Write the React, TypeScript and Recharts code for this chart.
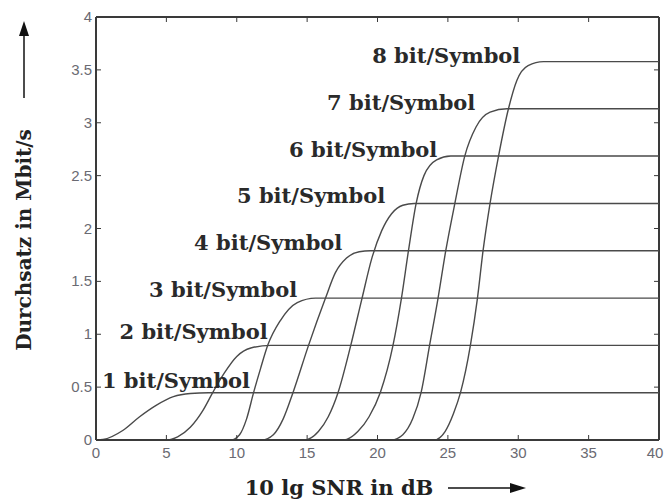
import React from 'react';
import { LineChart, Line, XAxis, YAxis, ReferenceDot, ReferenceLine } from 'recharts';

type P = { x: number; y: number };

const curve1: P[] = [
  { x: 0, y: 0 }, { x: 0.5, y: 0.005 }, { x: 1.9, y: 0.09 }, { x: 3.1, y: 0.22 },
  { x: 4.3, y: 0.33 }, { x: 5.5, y: 0.41 }, { x: 6.7, y: 0.44 }, { x: 8, y: 0.447 }, { x: 40, y: 0.447 },
];
const curve2: P[] = [
  { x: 0, y: 0 }, { x: 5, y: 0 }, { x: 5.8, y: 0.03 }, { x: 6.7, y: 0.12 }, { x: 7.6, y: 0.28 },
  { x: 8.3, y: 0.45 }, { x: 9.1, y: 0.63 }, { x: 10, y: 0.79 }, { x: 11, y: 0.87 }, { x: 12.4, y: 0.895 }, { x: 40, y: 0.895 },
];
const curve3: P[] = [
  { x: 0, y: 0 }, { x: 9.6, y: 0 }, { x: 10.2, y: 0.05 }, { x: 10.7, y: 0.2 }, { x: 11.2, y: 0.45 },
  { x: 11.7, y: 0.68 }, { x: 12.2, y: 0.895 }, { x: 13.1, y: 1.13 }, { x: 14.3, y: 1.3 }, { x: 15.6, y: 1.342 }, { x: 40, y: 1.342 },
];
const curve4: P[] = [
  { x: 0, y: 0 }, { x: 11.8, y: 0 }, { x: 12.6, y: 0.05 }, { x: 13.3, y: 0.2 }, { x: 14.0, y: 0.45 },
  { x: 15.1, y: 0.895 }, { x: 16.3, y: 1.34 }, { x: 17.0, y: 1.58 }, { x: 17.8, y: 1.72 }, { x: 18.7, y: 1.78 }, { x: 19.5, y: 1.79 }, { x: 40, y: 1.79 },
];
const curve5: P[] = [
  { x: 0, y: 0 }, { x: 14.8, y: 0 }, { x: 15.8, y: 0.08 }, { x: 16.5, y: 0.22 }, { x: 17.2, y: 0.45 },
  { x: 18.1, y: 0.895 }, { x: 18.9, y: 1.34 }, { x: 19.6, y: 1.72 }, { x: 20.3, y: 1.98 }, { x: 21.0, y: 2.14 },
  { x: 21.8, y: 2.22 }, { x: 22.6, y: 2.237 }, { x: 40, y: 2.237 },
];
const curve6: P[] = [
  { x: 0, y: 0 }, { x: 17.6, y: 0 }, { x: 18.6, y: 0.08 }, { x: 19.4, y: 0.22 }, { x: 20.2, y: 0.45 },
  { x: 21.1, y: 0.895 }, { x: 21.7, y: 1.34 }, { x: 22.2, y: 1.79 }, { x: 22.75, y: 2.24 }, { x: 23.3, y: 2.5 },
  { x: 24.2, y: 2.65 }, { x: 25.2, y: 2.685 }, { x: 40, y: 2.685 },
];
const curve7: P[] = [
  { x: 0, y: 0 }, { x: 21.0, y: 0 }, { x: 21.8, y: 0.05 }, { x: 22.5, y: 0.2 }, { x: 23.1, y: 0.45 },
  { x: 23.7, y: 0.895 }, { x: 24.3, y: 1.34 }, { x: 24.85, y: 1.79 }, { x: 25.5, y: 2.24 }, { x: 26.2, y: 2.685 },
  { x: 27.0, y: 2.96 }, { x: 28.0, y: 3.1 }, { x: 29.2, y: 3.132 }, { x: 40, y: 3.132 },
];
const curve8: P[] = [
  { x: 0, y: 0 }, { x: 24.0, y: 0 }, { x: 24.8, y: 0.08 }, { x: 25.4, y: 0.25 }, { x: 25.9, y: 0.45 },
  { x: 26.6, y: 0.895 }, { x: 27.1, y: 1.34 }, { x: 27.5, y: 1.79 }, { x: 28.0, y: 2.24 }, { x: 28.6, y: 2.685 },
  { x: 29.3, y: 3.13 }, { x: 29.9, y: 3.4 }, { x: 30.7, y: 3.54 }, { x: 31.8, y: 3.578 }, { x: 40, y: 3.578 },
];

const curves = [curve1, curve2, curve3, curve4, curve5, curve6, curve7, curve8];

const labelTexts = [
  '1 bit/Symbol', '2 bit/Symbol', '3 bit/Symbol', '4 bit/Symbol',
  '5 bit/Symbol', '6 bit/Symbol', '7 bit/Symbol', '8 bit/Symbol',
];
const labelX = [10.95, 12.2, 14.3, 17.5, 20.55, 24.25, 26.95, 30.15];
const labelY = [0.567, 1.03, 1.42, 1.87, 2.31, 2.75, 3.19, 3.64];

const xTicks = [0, 5, 10, 15, 20, 25, 30, 35, 40];
const yTicks = [0, 0.5, 1, 1.5, 2, 2.5, 3, 3.5, 4];

const xTitle = '10 lg SNR in dB';
const yTitle = 'Durchsatz in Mbit/s';

const BOX = '#3a3a3a';
const TICKTXT = '#6a6a72';
const LABEL_FONT = "'DejaVu Serif', 'Liberation Serif', serif";
const TICK_FONT = "'Liberation Sans', Arial, sans-serif";

const BottomTick = (props: any) => {
  const { x, y, payload } = props;
  const tx = Math.min(x, 655);
  return (
    <g>
      <line x1={x} y1={y} x2={x} y2={y - 5} stroke={BOX} strokeWidth={1} />
      <text x={tx} y={y + 18} textAnchor="middle" fontSize={15} fill={TICKTXT} fontFamily={TICK_FONT}>
        {payload.value}
      </text>
    </g>
  );
};

const TopTick = (props: any) => {
  const { x } = props;
  return <line x1={x} y1={17} x2={x} y2={22} stroke={BOX} strokeWidth={1} />;
};

const LeftTick = (props: any) => {
  const { x, y, payload } = props;
  return (
    <g>
      <line x1={x} y1={y} x2={x + 5} y2={y} stroke={BOX} strokeWidth={1} />
      <text x={x - 4} y={y + 5} textAnchor="end" fontSize={15} fill={TICKTXT} fontFamily={TICK_FONT}>
        {payload.value}
      </text>
    </g>
  );
};

const RightTick = (props: any) => {
  const { y } = props;
  return <line x1={659} y1={y} x2={654} y2={y} stroke={BOX} strokeWidth={1} />;
};

const XTitle = (props: any) => {
  const vb = props.viewBox || { x: 96, y: 440, width: 563, height: 60 };
  const ty = vb.y + 55;
  return (
    <g>
      <text x={339} y={ty} textAnchor="middle" fontSize={21} fontWeight="bold" fill="#222" fontFamily={LABEL_FONT}>
        {xTitle}
      </text>
      <line x1={448} y1={ty - 7} x2={512} y2={ty - 7} stroke="#111" strokeWidth={1.5} />
      <polygon points={`${526},${ty - 7} ${510},${ty - 12} ${510},${ty - 2}`} fill="#111" />
    </g>
  );
};

const YTitle = () => {
  return (
    <g>
      <text
        x={0}
        y={0}
        transform="translate(31,240) rotate(-90)"
        textAnchor="middle"
        fontSize={20}
        fontWeight="bold"
        fill="#222"
        fontFamily={LABEL_FONT}
      >
        {yTitle}
      </text>
      <line x1={24} y1={98} x2={24} y2={34} stroke="#111" strokeWidth={1.5} />
      <polygon points={`24,21 19,36 29,36`} fill="#111" />
    </g>
  );
};

const makeLabel = (text: string) => (props: any) => {
  const vb = props.viewBox || {};
  const x = vb.x ?? props.x;
  const y = vb.y ?? props.y;
  return (
    <text
      x={x}
      y={y}
      textAnchor="end"
      dominantBaseline="central"
      fontSize={21}
      fontWeight="bold"
      fill="#2a2a2a"
      fontFamily={LABEL_FONT}
    >
      {text}
    </text>
  );
};

export default function App() {
  return (
    <div style={{ position: 'absolute', left: 0, top: 0, width: 665, height: 500, background: '#fff' }}>
      <LineChart width={665} height={500} margin={{ top: 16, right: 5, left: 0, bottom: 0 }}>
        <XAxis
          xAxisId={0}
          dataKey="x"
          type="number"
          domain={[0, 40]}
          ticks={xTicks}
          interval={0}
          allowDataOverflow
          height={60}
          tickSize={0}
          tickMargin={0}
          tickLine={false}
          tick={<BottomTick />}
          axisLine={{ stroke: BOX, strokeWidth: 2 }}
          label={<XTitle />}
        />
        <XAxis
          xAxisId="top"
          orientation="top"
          dataKey="x"
          type="number"
          domain={[0, 40]}
          ticks={xTicks}
          interval={0}
          allowDataOverflow
          height={1}
          tickSize={0}
          tickMargin={0}
          tickLine={false}
          tick={<TopTick />}
          axisLine={false}
        />
        <YAxis
          yAxisId={0}
          type="number"
          domain={[0, 4]}
          ticks={yTicks}
          interval={0}
          allowDataOverflow
          width={96}
          tickSize={0}
          tickMargin={0}
          tickLine={false}
          tick={<LeftTick />}
          axisLine={{ stroke: BOX, strokeWidth: 2 }}
          label={<YTitle />}
        />
        <YAxis
          yAxisId="right"
          orientation="right"
          type="number"
          domain={[0, 4]}
          ticks={yTicks}
          interval={0}
          allowDataOverflow
          width={1}
          tickSize={0}
          tickMargin={0}
          tickLine={false}
          tick={<RightTick />}
          axisLine={false}
        />
        <ReferenceLine y={4} stroke={BOX} strokeWidth={2} ifOverflow="extendDomain" />
        <ReferenceLine x={40} stroke={BOX} strokeWidth={2} ifOverflow="extendDomain" />
        <Line
          xAxisId="top"
          yAxisId="right"
          data={curve1}
          dataKey="y"
          stroke="none"
          dot={false}
          activeDot={false}
          isAnimationActive={false}
        />
        {curves.map((c, i) => (
          <Line
            key={i}
            data={c}
            dataKey="y"
            type="monotone"
            stroke="#4a4a4a"
            strokeWidth={1.4}
            dot={false}
            activeDot={false}
            isAnimationActive={false}
          />
        ))}
        {labelTexts.map((t, i) => (
          <ReferenceDot
            key={t}
            x={labelX[i]}
            y={labelY[i]}
            r={0}
            fill="none"
            stroke="none"
            label={makeLabel(t)}
          />
        ))}
      </LineChart>
    </div>
  );
}
